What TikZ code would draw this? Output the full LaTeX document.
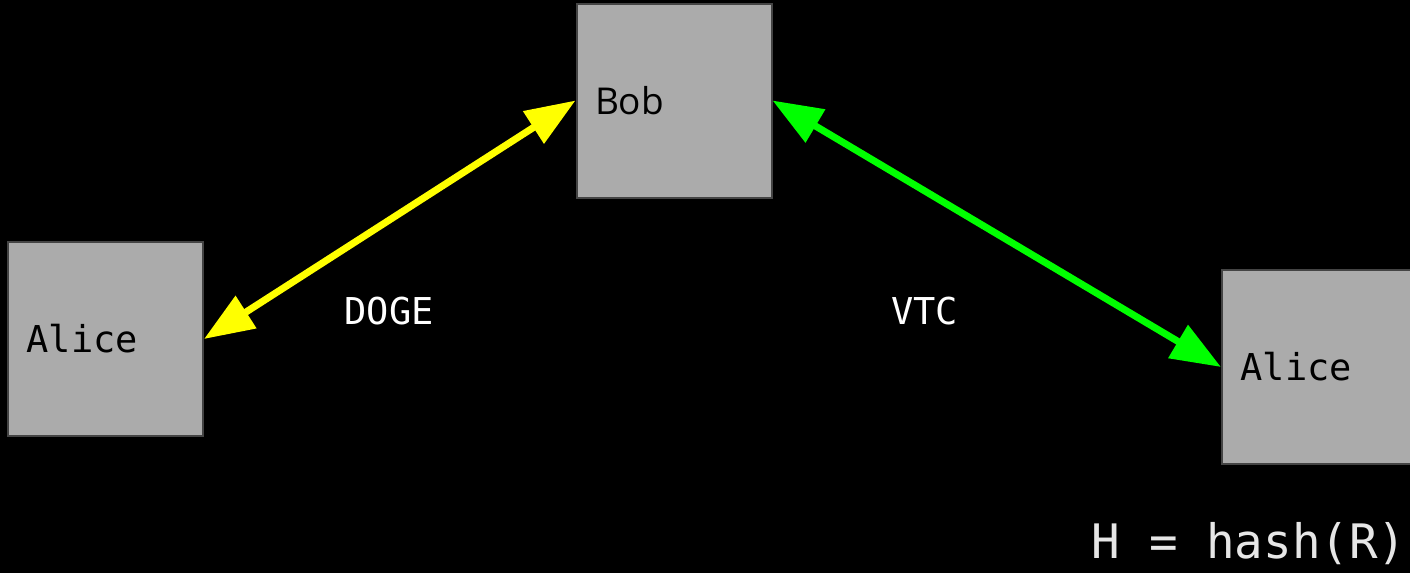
\documentclass[tikz,border=0pt]{standalone}
\usepackage{fontspec}
\usepackage{tikz}
\usetikzlibrary{positioning}
\usetikzlibrary{arrows.meta}
\usepackage{xcolor}
\newfontfamily\monofont{DejaVu Sans Mono}
\newfontfamily\bobfont{Open Sans}
\definecolor{boxgrey}{HTML}{ABABAB}
\definecolor{boxedge}{HTML}{444444}
\definecolor{coinyellow}{HTML}{FFFF00}
\definecolor{coingreen}{HTML}{00FF00}
\definecolor{notegrey}{HTML}{E6E6E6}

\begin{document}
\begin{tikzpicture}[x=1pt, y=-1pt,
    every node/.style={font=\monofont\fontsize{37}{40}\selectfont},
    party/.style={draw=boxedge, fill=boxgrey, line width=2pt, text width=158pt,
        inner xsep=18.5pt, minimum height=194pt, align=left, text=black},
    swap/.style={line width=7pt, {Triangle[length=50pt, width=37pt]}-{Triangle[length=50pt, width=37pt]}},
    coin/.style={text=white}]
\fill[black] (0,0) rectangle (1410,573);
\useasboundingbox (0,0) rectangle (1410,573);

% Parties
\node[party] (alice1) at (105.5,339) {Alice};
\node[party, font=\bobfont\fontsize{37}{40}\selectfont] (bob) at (674,100.5) {Bob};
\node[party] (alice2) at (1319.5,367) {Alice};

% Swaps
\draw[swap, coinyellow] (alice1.east) -- (bob.west);
\draw[swap, coingreen] (bob.east) -- (alice2.west);
\node[coin] (doge) at (389,311) {DOGE};
\node[coin] (vtc) at (924.5,311) {VTC};

\node[text=notegrey, anchor=south east, font=\monofont\fontsize{47.5}{50}\selectfont] (hash) at (1410,568) {H = hash(R)};
\end{tikzpicture}
\end{document}
